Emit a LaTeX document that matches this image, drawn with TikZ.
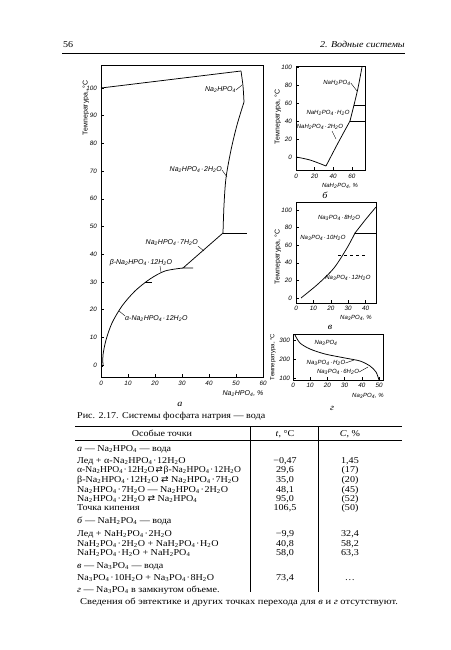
\documentclass[tikz,border=0pt]{standalone}
\usepackage{fontspec}
\setmainfont{Liberation Serif}[FakeStretch=1.12]
\setsansfont{Liberation Sans}
\newfontfamily\symfont{DejaVu Sans}
\newcommand\ssb[1]{\textsubscript{#1}}
\newcommand\DSP{Na\ssb{2}HPO\ssb{4}}
\newcommand\MSP{NaH\ssb{2}PO\ssb{4}}
\newcommand\TSP{Na\ssb{3}PO\ssb{4}}
\newcommand\hyd[1]{\kern0.7pt·\kern0.7pt#1H\ssb{2}O}
\newcommand\eqs{{\symfont ⇄}}
\tikzset{
  plab/.style={font=\sffamily\itshape\fontsize{7}{7}\selectfont, inner sep=0pt},
  slab/.style={font=\sffamily\itshape\fontsize{6}{6}\selectfont, inner sep=0pt},
  ticklab/.style={font=\sffamily\itshape\fontsize{6.3}{6.3}\selectfont, inner sep=0pt},
  ylab/.style={font=\sffamily\fontsize{7}{7}\selectfont, rotate=90, inner sep=0pt},
  sylab/.style={font=\sffamily\fontsize{6}{6}\selectfont, rotate=90, inner sep=0pt},
  capl/.style={font=\itshape\fontsize{9}{9}\selectfont, inner sep=0pt},
  frame/.style={line width=0.6pt},
  crv/.style={line width=0.75pt},
  lead/.style={line width=0.4pt},
  trow/.style={font=\fontsize{9}{9}\selectfont, anchor=base west, inner sep=0pt},
  tnum/.style={font=\fontsize{9}{9}\selectfont, anchor=base, inner sep=0pt},
  rule/.style={line width=0.5pt}
}
\begin{document}
\begin{tikzpicture}[x=1pt,y=-1pt]
\useasboundingbox[fill=white] (0,0) rectangle (450,650);

% ---------- page header ----------
\node[font=\fontsize{9}{9}\selectfont, anchor=base west, inner sep=0pt] (pg) at (63,48) {56};
\node[font=\itshape\fontsize{9}{9}\selectfont, anchor=base east, inner sep=0pt] (ch) at (405,48) {2. Водные системы};
\draw[rule] (62,53) -- (405,53);

% ---------- main plot (a) ----------
\draw[frame] (101,65) rectangle (263,377);
\foreach \t in {0,10,...,100}{
  \draw[lead] (101,{365-2.77*\t}) -- ++(3,0);
  \node[ticklab, anchor=east] at (97,{365-2.77*\t}) {\t};
}
\foreach \c in {0,10,...,60}{
  \draw[lead] ({101+2.7*\c},377) -- ++(0,-3);
  \node[ticklab, anchor=north] at ({101+2.7*\c},381) {\c};
}
\node[ylab] (ya) at (86,108) {Температура, °С};
\node[plab] (xa) at (243,394) {\DSP, \%};
\node[capl] (ca) at (180,404) {а};

\draw[crv] (101,88) -- (241,71);
\draw[crv] plot[smooth] coordinates {(241,71) (243,86) (244,102)};
\draw[crv] plot[smooth] coordinates {(244,102) (237,125) (231,150) (226,178) (224,205) (223,233)};
\draw[crv] (223,233) -- (247,233);
\draw[crv] (223,233) -- (183,268) -- (193,268);
\draw[crv] plot[smooth] coordinates {(183,268) (165,271) (150,279) (135,291) (122,306) (112,323) (106,340) (103,355) (103,366)};
\draw[crv] (101,366) -- (103,366);
\draw[lead] (145,282) -- (152,282);

\node[plab, anchor=east] (a1) at (236,90) {\DSP};
\draw[lead] (a1.east) -- (242,85);
\node[plab, anchor=east] (a2) at (222,170) {\DSP\hyd{2}};
\draw[lead] (a2.east) -- (227,177);
\node[plab, anchor=east] (a3) at (198,243) {\DSP\hyd{7}};
\draw[lead] (a3.south east) -- (204,251);
\node[plab] (a4) at (141,263) {β-\DSP\hyd{12}};
\draw[lead] (160,266) -- (161,272);
\node[plab, anchor=west] (a5) at (125,319) {α-\DSP\hyd{12}};
\draw[lead] (a5.north west) -- (119,311);

% ---------- plot (б) ----------
\draw[frame] (296,66) rectangle (365,170);
\foreach \t in {0,20,...,100}{
  \draw[lead] (296,{157-0.9*\t}) -- ++(3,0);
  \node[ticklab, anchor=east] at (292,{157-0.9*\t}) {\t};
}
\foreach \c in {0,20,40,60}{
  \draw[lead] ({296+0.93*\c},170) -- ++(0,-3);
  \node[ticklab, anchor=north] at ({296+0.93*\c},174) {\c};
}
\node[ylab] (yb) at (278,117) {Температура, °С};
\node[slab] (xb) at (340,186) {\MSP, \%};
\node[capl] (cb) at (325,195) {б};

\draw[crv] plot[smooth] coordinates {(296,157) (310,160) (326,166)};
\draw[crv] plot[smooth] coordinates {(326,166) (338,143) (350,121)};
\draw[crv] (350,121) -- (354,105);
\draw[crv] plot[smooth] coordinates {(354,105) (358,88) (362,67)};
\draw[crv] (350,121) -- (365,121);
\draw[crv] (354,105) -- (365,105);
\node[slab] (b1) at (337,83) {\MSP};
\draw[lead] (b1.east) -- (357,91);
\node[slab] (b2) at (328,113) {\MSP\hyd{}};
\node[slab] (b3) at (320,127) {\MSP\hyd{2}};
\draw[lead] (332,131) -- (336,139);

% ---------- plot (в) ----------
\draw[frame] (296,202) rectangle (376,303);
\foreach \t in {0,20,...,100}{
  \draw[lead] (296,{298-0.88*\t}) -- ++(3,0);
  \node[ticklab, anchor=east] at (292,{298-0.88*\t}) {\t};
}
\foreach \c in {0,10,...,40}{
  \draw[lead] ({296+1.74*\c},303) -- ++(0,-3);
  \node[ticklab, anchor=north] at ({296+1.74*\c},306) {\c};
}
\node[ylab] (yv) at (278,257) {Температура, °С};
\node[slab] (xv) at (356,318) {\TSP, \%};
\node[capl] (cv) at (330,327) {в};

\draw[crv] plot[smooth] coordinates {(301,298) (318,284) (334,268) (347,248) (355,233)};
\draw[crv] plot[smooth] coordinates {(355,233) (366,219) (376,207)};
\draw[crv] (355,233) -- (376,233);
\draw[crv, dashed] (338,255) -- (366,255);
\node[slab] (v1) at (339,218) {\TSP\hyd{8}};
\node[slab] (v2) at (323,238) {\TSP\hyd{10}};
\node[slab] (v3) at (348,278) {\TSP\hyd{12}};

% ---------- plot (г) ----------
\draw[frame] (293,334) rectangle (383,380);
\foreach \t in {100,200,300}{
  \draw[lead] (293,{397-0.19*\t}) -- ++(3,0);
  \node[ticklab, anchor=east] at (290,{397-0.19*\t}) {\t};
}
\foreach \c in {0,10,...,50}{
  \draw[lead] ({293+1.72*\c},380) -- ++(0,-3);
  \node[ticklab, anchor=north] at ({293+1.72*\c},383) {\c};
}
\node[sylab] (yg) at (273,357) {Температура, °С};
\node[slab] (xg) at (368,396) {\TSP, \%};
\node[capl] (cg) at (332,408) {г};

\draw[crv] plot[smooth] coordinates {(295,335) (300,343) (310,349) (325,354) (345,358) (360,361) (370,366) (376,372) (379,380)};
\node[slab] (g1) at (326,343) {\TSP};
\node[slab] (g2) at (326,363) {\TSP\hyd{}};
\draw[lead] (g2.east) -- (354,360);
\node[slab] (g3) at (338,372) {\TSP\hyd{6}};
\draw[lead] (g3.east) -- (368,367);

% ---------- caption ----------
\node[trow] (cap) at (77,418) {Рис. 2.17. Системы фосфата натрия — вода};

% ---------- table ----------
\draw[rule] (75,426) -- (402,426);
\draw[rule] (75,440) -- (402,440);
\draw[rule] (250,426) -- (250,592);
\draw[rule] (318,426) -- (318,592);
\node[tnum] (h1) at (162,436) {Особые точки};
\node[tnum] (h2) at (285,436) {\textit{t}, °С};
\node[tnum] (h3) at (350,436) {\textit{C}, \%};

\node[trow] at (77,451) {\textit{а} — \DSP\ — вода};
\node[trow] at (77,463) {Лед + α-\DSP\hyd{12}};
\node[tnum] at (285,463) {−0,47};  \node[tnum] at (350,463) {1,45};
\node[trow, transform shape, xscale=0.95] at (77,472) {α-\DSP\hyd{12}\kern1pt\eqs\kern1pt β-\DSP\hyd{12}};
\node[tnum] at (285,472) {29,6};   \node[tnum] at (350,472) {(17)};
\node[trow] at (77,482) {β-\DSP\hyd{12} \eqs\ \DSP\hyd{7}};
\node[tnum] at (285,482) {35,0};   \node[tnum] at (350,482) {(20)};
\node[trow] at (77,492) {\DSP\hyd{7} — \DSP\hyd{2}};
\node[tnum] at (285,492) {48,1};   \node[tnum] at (350,492) {(45)};
\node[trow] at (77,501) {\DSP\hyd{2} \eqs\ \DSP};
\node[tnum] at (285,501) {95,0};   \node[tnum] at (350,501) {(52)};
\node[trow] at (77,510) {Точка кипения};
\node[tnum] at (285,510) {106,5};  \node[tnum] at (350,510) {(50)};

\node[trow] at (77,523) {\textit{б} — \MSP\ — вода};
\node[trow] at (77,536) {Лед + \MSP\hyd{2}};
\node[tnum] at (285,536) {−9,9};   \node[tnum] at (350,536) {32,4};
\node[trow] at (77,546) {\MSP\hyd{2} + \MSP\hyd{}};
\node[tnum] at (285,546) {40,8};   \node[tnum] at (350,546) {58,2};
\node[trow] at (77,555) {\MSP\hyd{} + \MSP};
\node[tnum] at (285,555) {58,0};   \node[tnum] at (350,555) {63,3};

\node[trow] at (77,568) {\textit{в} — \TSP\ — вода};
\node[trow] at (77,580) {\TSP\hyd{10} + \TSP\hyd{8}};
\node[tnum] at (285,580) {73,4};   \node[tnum] at (350,580) {\dots};
\node[trow] at (77,592) {\textit{г} — \TSP\ в замкнутом объеме.};
\node[trow, transform shape, xscale=1.04] at (80,604) {Сведения об эвтектике и других точках перехода для \textit{в} и \textit{г} отсутствуют.};
\end{tikzpicture}
\end{document}
